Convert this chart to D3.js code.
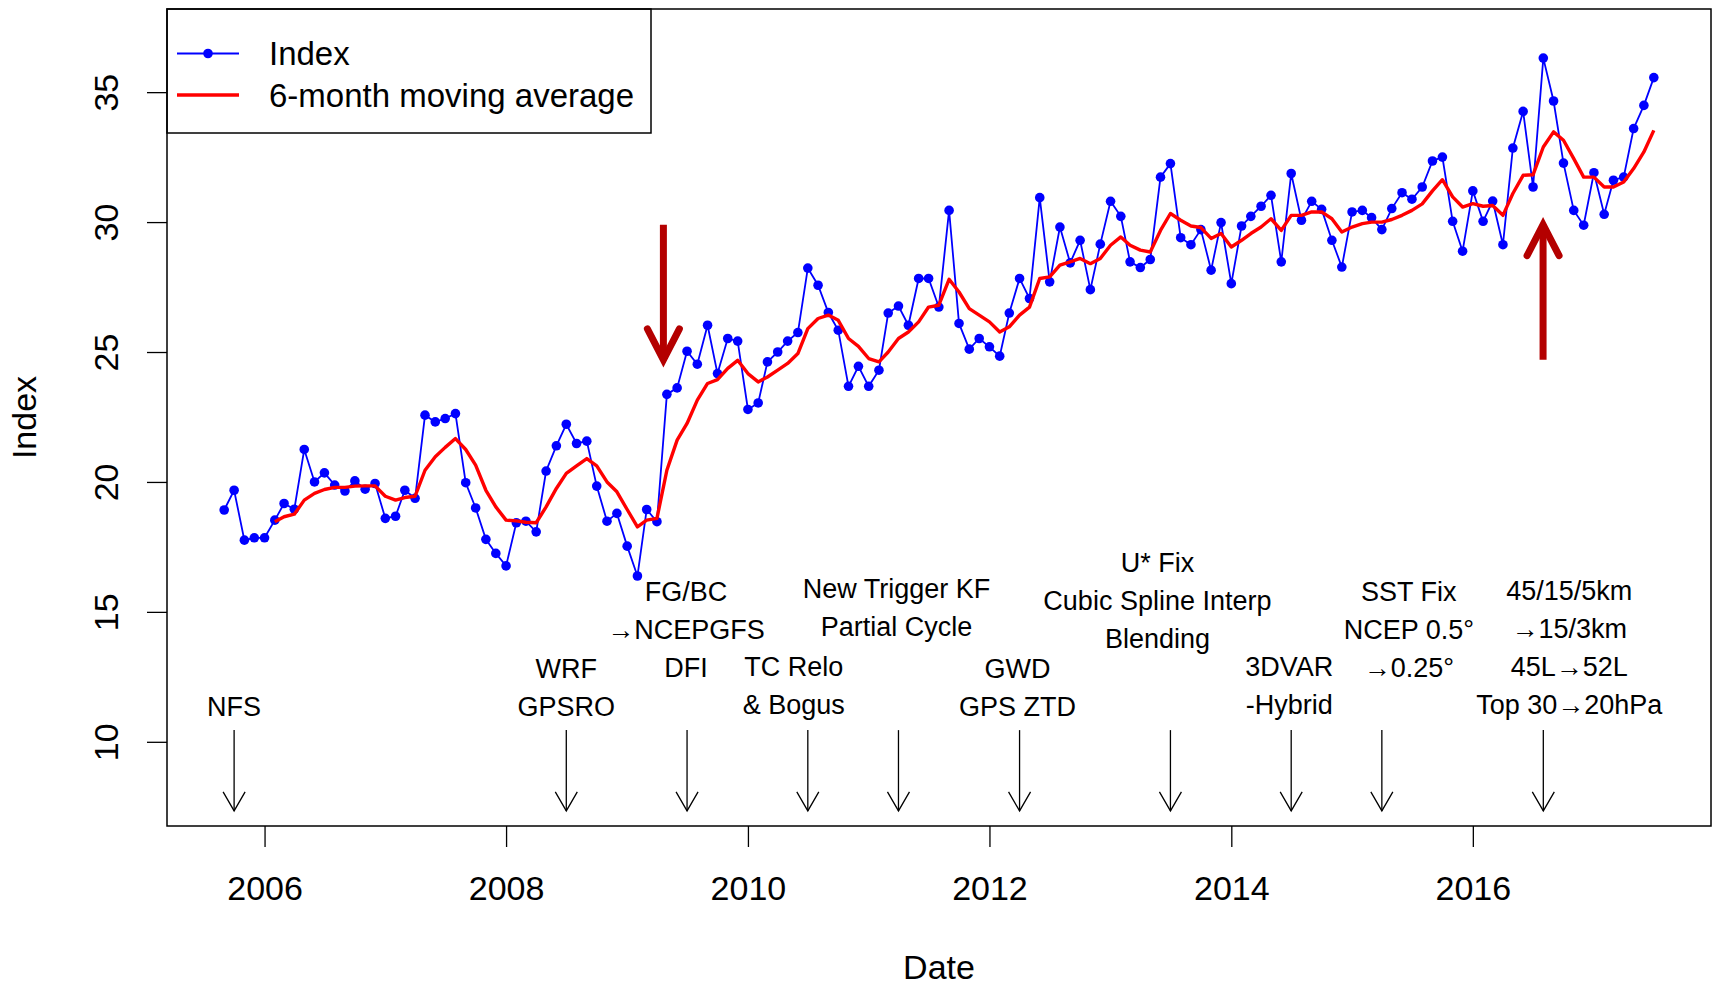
<!DOCTYPE html>
<html>
<head>
<meta charset="utf-8">
<script src="https://cdn.jsdelivr.net/npm/d3@7"></script>
<style>
  body { margin: 0; background: #fff; }
  text { font-family: "Liberation Sans", Arial, sans-serif; fill: #000; }
</style>
</head>
<body>
<div id="chart"></div>
<script>
// monthly index, first month Sep 2005, last Jul 2017
first_month = new Date(2005, 8, 1);
index_vals = [
  18.92, 19.68, 17.76, 17.85, 17.85, 18.53, 19.17, 18.95, 21.25, 20.00,
  20.35, 19.88, 19.65, 20.04, 19.72, 19.94, 18.60, 18.68, 19.68, 19.37,
  22.57, 22.31, 22.44, 22.63, 19.97, 19.00, 17.79, 17.25, 16.77, 18.43,
  18.49, 18.08, 20.42, 21.39, 22.22, 21.48, 21.57, 19.84, 18.49, 18.79,
  17.53, 16.38, 18.94, 18.47, 23.37, 23.62, 25.03, 24.53, 26.03, 24.17,
  25.52, 25.42, 22.79, 23.04, 24.62, 25.00, 25.42, 25.75, 28.23, 27.57,
  26.52, 25.84, 23.68, 24.45, 23.68, 24.30, 26.50, 26.77, 26.03, 27.83,
  27.83, 26.73, 30.45, 26.10, 25.11, 25.52, 25.20, 24.84, 26.50, 27.83,
  27.06, 30.94, 27.70, 29.81, 28.43, 29.30, 27.40, 29.15, 30.80, 30.22,
  28.47, 28.25, 28.56, 31.73, 32.25, 29.40, 29.13, 29.71, 28.15, 29.98,
  27.63, 29.85, 30.22, 30.61, 31.03, 28.47, 31.87, 30.07, 30.80, 30.49,
  29.30, 28.27, 30.39, 30.45, 30.17, 29.71, 30.52, 31.13, 30.88, 31.35,
  32.35, 32.50, 30.03, 28.88, 31.20, 30.03, 30.81, 29.13, 32.85, 34.26,
  31.35, 36.31, 34.66, 32.27, 30.45, 29.88, 31.90, 30.30, 31.61, 31.73,
  33.60, 34.49, 35.56
];
// 6-month moving average, starts at the 6th month (Feb 2006)
ma_offset = 5;
ma_vals = [
  18.47, 18.66, 18.76, 19.30, 19.56, 19.71, 19.79, 19.79, 19.84, 19.85,
  19.85, 19.45, 19.30, 19.40, 19.45, 20.45, 20.97, 21.33, 21.67, 21.25,
  20.65, 19.68, 19.04, 18.53, 18.50, 18.45, 18.43, 19.04, 19.75, 20.33,
  20.62, 20.90, 20.62, 20.00, 19.62, 18.94, 18.27, 18.53, 18.60, 20.45,
  21.61, 22.25, 23.15, 23.79, 23.94, 24.37, 24.68, 24.17, 23.85, 24.04,
  24.30, 24.56, 24.94, 25.90, 26.29, 26.42, 26.22, 25.52, 25.22, 24.75,
  24.62, 25.00, 25.52, 25.77, 26.16, 26.73, 26.80, 27.80, 27.31, 26.67,
  26.42, 26.16, 25.77, 25.97, 26.42, 26.73, 27.83, 27.89, 28.34, 28.47,
  28.60, 28.40, 28.60, 29.11, 29.43, 29.11, 28.92, 28.85, 29.68, 30.33,
  30.07, 29.85, 29.79, 29.37, 29.56, 29.04, 29.30, 29.56, 29.81, 30.13,
  29.68, 30.26, 30.26, 30.39, 30.39, 30.13, 29.62, 29.81, 29.94, 30.00,
  30.00, 30.10, 30.26, 30.45, 30.70, 31.20, 31.63, 30.97, 30.58, 30.71,
  30.61, 30.64, 30.26, 31.10, 31.80, 31.82, 32.89, 33.47, 33.15, 32.44,
  31.73, 31.73, 31.35, 31.35, 31.54, 32.06, 32.70, 33.53
];

x_ticks = [2006, 2008, 2010, 2012, 2014, 2016];
y_ticks = [10, 15, 20, 25, 30, 35];

// model changes marked with black arrows
anno_months = [[2005, 10], [2008, 7], [2009, 7], [2010, 7], [2011, 4],
               [2012, 4], [2013, 7], [2014, 7], [2015, 4], [2016, 8]];
anno_labels = [
  ["NFS"],
  ["WRF", "GPSRO"],
  ["FG/BC", "\u2192NCEPGFS", "DFI"],
  ["TC Relo", "& Bogus"],
  ["New Trigger KF", "Partial Cycle"],
  ["GWD", "GPS ZTD"],
  ["U* Fix", "Cubic Spline Interp", "Blending"],
  ["3DVAR", "-Hybrid"],
  ["SST Fix", "NCEP 0.5\u00b0", "\u21920.25\u00b0"],
  ["45/15/5km", "\u219215/3km", "45L\u219252L", "Top 30\u219220hPa"]
];
anno_label_y = [11.34, 11.34, 12.86, 11.42, 14.45, 11.34, 13.99, 11.42, 12.86, 11.42];
anno_arrow_y = [10.45, 7.34];

// big red arrows (dates as fractional year)
red_arrow_x = [2009.30, 2016.58];
red_arrow_y = [24.7, 29.9];

W = 1713; H = 987;
box = {l: 167, r: 1711, t: 9, b: 826};
fs = 34;
legend_fs = 33;
anno_fs = 27;
anno_dx = [0, 0, -1, -14, -2, -2, -13, -2, 27, 26];

months = index_vals.map((d, i) => d3.timeMonth.offset(first_month, i));
function yearDate(y) {
  yr = Math.floor(y);
  a = new Date(yr, 0, 1), b = new Date(yr + 1, 0, 1);
  return new Date(+a + (y - yr) * (b - a));
}

ext = d3.extent(months);
pad = (ext[1] - ext[0]) * 0.04;
x = d3.scaleTime()
  .domain([new Date(+ext[0] - pad), new Date(+ext[1] + pad)])
  .range([box.l, box.r]);
y = d3.scaleLinear().domain([6.76, 38.2]).range([box.b, box.t]);

svg = d3.select('#chart')
  .append('svg')
  .attr('width', W)
  .attr('height', H)
  .style('display', 'block');

// x axis
gx = svg.append('g')
  .attr('transform', 'translate(0,' + box.b + ')')
  .call(d3.axisBottom(x)
    .tickValues(x_ticks.map(d => new Date(d, 0, 1)))
    .tickFormat(d3.timeFormat('%Y'))
    .tickSize(21)
    .tickPadding(29));
gx.select('.domain').remove();
gx.selectAll('line').attr('stroke', '#000').attr('stroke-width', 1.3);
gx.selectAll('text').attr('font-size', fs).attr('font-family', '"Liberation Sans", Arial, sans-serif');

// y axis
gy = svg.append('g')
  .attr('transform', 'translate(' + box.l + ',0)')
  .call(d3.axisLeft(y).tickValues(y_ticks).tickSize(20));
gy.select('.domain').remove();
gy.selectAll('line').attr('stroke', '#000').attr('stroke-width', 1.3);
gy.selectAll('text')
  .attr('x', null)
  .attr('dy', '0.35em')
  .attr('text-anchor', 'middle')
  .attr('transform', 'translate(' + (106 - box.l) + ',0) rotate(-90)')
  .attr('font-size', fs)
  .attr('font-family', '"Liberation Sans", Arial, sans-serif');

svg.append('text')
  .attr('x', (box.l + box.r) / 2)
  .attr('y', 979)
  .attr('text-anchor', 'middle')
  .attr('font-size', fs)
  .text('Date');
svg.append('text')
  .attr('transform', 'translate(36,' + ((box.t + box.b) / 2) + ') rotate(-90)')
  .attr('text-anchor', 'middle')
  .attr('font-size', fs)
  .text('Index');

// index series
svg.append('path')
  .datum(index_vals)
  .attr('fill', 'none')
  .attr('stroke', '#0000FF')
  .attr('stroke-width', 1.8)
  .attr('d', d3.line().x((d, i) => x(months[i])).y(d => y(d)));
svg.append('g')
  .selectAll('circle')
  .data(index_vals)
  .join('circle')
  .attr('cx', (d, i) => x(months[i]))
  .attr('cy', d => y(d))
  .attr('r', 4.8)
  .attr('fill', '#0000FF');

// moving average
svg.append('path')
  .datum(ma_vals)
  .attr('fill', 'none')
  .attr('stroke', '#FF0000')
  .attr('stroke-width', 3.4)
  .attr('stroke-linejoin', 'round')
  .attr('d', d3.line().x((d, i) => x(months[i + ma_offset])).y(d => y(d)));

// black annotation arrows + labels
anno_months.forEach(function (m, k) {
  ax = x(new Date(m[0], m[1] - 1, 1));
  y0 = y(anno_arrow_y[0]); y1 = y(anno_arrow_y[1]);
  svg.append('line')
    .attr('x1', ax).attr('x2', ax).attr('y1', y0).attr('y2', y1)
    .attr('stroke', '#000').attr('stroke-width', 1.3);
  svg.append('path')
    .attr('d', 'M' + (ax - 11) + ',' + (y1 - 19) + 'L' + ax + ',' + y1 + 'L' + (ax + 11) + ',' + (y1 - 19))
    .attr('fill', 'none').attr('stroke', '#000').attr('stroke-width', 1.3);
  lines = anno_labels[k];
  ly = y(anno_label_y[k]);
  t = svg.append('text')
    .attr('text-anchor', 'middle')
    .attr('font-size', anno_fs);
  lines.forEach(function (s, j) {
    t.append('tspan')
      .attr('x', ax + anno_dx[k])
      .attr('y', ly - (lines.length - 1 - j) * 38)
      .attr('dy', '0.35em')
      .text(s);
  });
});

// big red arrows
red_col = '#B40000';
red_arrow_x.forEach(function (d, k) {
  rx = x(yearDate(d));
  ya = y(red_arrow_y[1]), yb = y(red_arrow_y[0]);
  tip = k == 0 ? yb : ya;
  dir = k == 0 ? -1 : 1;
  svg.append('line')
    .attr('x1', rx).attr('x2', rx).attr('y1', ya).attr('y2', yb)
    .attr('stroke', red_col).attr('stroke-width', 7);
  svg.append('path')
    .attr('d', 'M' + (rx - 16) + ',' + (tip + dir * 31) + 'L' + rx + ',' + tip + 'L' + (rx + 16) + ',' + (tip + dir * 31))
    .attr('fill', 'none').attr('stroke', red_col).attr('stroke-width', 7)
    .attr('stroke-linecap', 'round');
});

// legend
svg.append('rect')
  .attr('x', box.l).attr('y', box.t)
  .attr('width', 484).attr('height', 124)
  .attr('fill', '#fff').attr('stroke', '#000').attr('stroke-width', 1.5);
svg.append('line')
  .attr('x1', 177).attr('x2', 239).attr('y1', 53.5).attr('y2', 53.5)
  .attr('stroke', '#0000FF').attr('stroke-width', 1.8);
svg.append('circle')
  .attr('cx', 208).attr('cy', 53.5).attr('r', 4.8).attr('fill', '#0000FF');
svg.append('line')
  .attr('x1', 177).attr('x2', 239).attr('y1', 95).attr('y2', 95)
  .attr('stroke', '#FF0000').attr('stroke-width', 3.4);
svg.append('text').attr('x', 269).attr('y', 53.5).attr('dy', '0.35em')
  .attr('font-size', legend_fs).text('Index');
svg.append('text').attr('x', 269).attr('y', 95).attr('dy', '0.35em')
  .attr('font-size', legend_fs).text('6-month moving average');

// plot box
svg.append('rect')
  .attr('x', box.l).attr('y', box.t)
  .attr('width', box.r - box.l).attr('height', box.b - box.t)
  .attr('fill', 'none').attr('stroke', '#000').attr('stroke-width', 1.5);
</script>
</body>
</html>
